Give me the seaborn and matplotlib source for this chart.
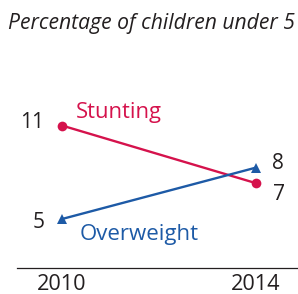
import pandas as pd
import matplotlib.pyplot as plt
import seaborn as sns

# Data
years = [2010, 2014]
stunting = [11, 7.3]
overweight = [5, 8.3]
series_names = ['Stunting', 'Overweight']
subtitle = 'Percentage of children under 5'

red = '#D5124C'
blue = '#1D5AA6'
ink = '#231F20'

df = pd.DataFrame({
    'year': years * 2,
    'value': stunting + overweight,
    'series': [series_names[0]] * 2 + [series_names[1]] * 2,
})

sns.set_style('white')
plt.rcParams['font.family'] = ['Open Sans', 'DejaVu Sans']

fig = plt.figure(figsize=(2.98, 2.94), dpi=100)
ax = fig.add_axes([17 / 298, 26 / 294, 281 / 298, 223 / 294])

sns.lineplot(data=df, x='year', y='value', hue='series', style='series',
             palette={'Stunting': red, 'Overweight': blue},
             markers={'Stunting': 'o', 'Overweight': '^'}, dashes=False,
             markersize=7, markeredgewidth=0, linewidth=1.7,
             legend=False, ax=ax)

ax.set_xlim(2009.072, 2014.866)
ax.set_ylim(1.855, 16.17)

# value labels
def label(x, y, text, dx, dy, ha, color=ink, size=15):
    ax.annotate(text, (x, y), xytext=(dx, dy), textcoords='offset pixels',
                ha=ha, va='baseline', fontsize=size, color=color)

label(years[0], stunting[0], str(round(stunting[0])), -17.5, -2.5, 'right')
label(years[1], stunting[1], str(round(stunting[1])), 16.5, -17, 'left')
label(years[0], overweight[0], str(round(overweight[0])), -17.5, -9, 'right')
label(years[1], overweight[1], str(round(overweight[1])), 16, -1.5, 'left')
label(years[0], stunting[0], series_names[0], 14, 7.5, 'left', red, 15.8)
label(years[0], overweight[0], series_names[1], 18, -21, 'left', blue, 16)

ax.set_xticks(years)
ax.set_xticklabels([str(y) for y in years], fontsize=15.6, color=ink)
ax.set_yticks([])
ax.set_xlabel('')
ax.set_ylabel('')
ax.tick_params(axis='x', length=0, pad=4.2)
for s in ['top', 'left', 'right']:
    ax.spines[s].set_visible(False)
ax.spines['bottom'].set_color(ink)
ax.spines['bottom'].set_linewidth(0.9)

fig.text(8 / 298, 1 - 29 / 294, subtitle, fontsize=15.2, style='italic',
         color=ink, ha='left', va='baseline')

fig.savefig('out.png', dpi=100)
